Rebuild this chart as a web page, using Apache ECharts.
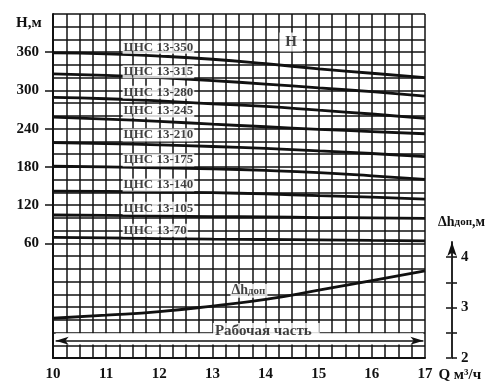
<!DOCTYPE html>
<html>
<head>
<meta charset="utf-8">
<script src="https://cdn.jsdelivr.net/npm/echarts@6/dist/echarts.min.js"></script>
<style>
html,body{margin:0;padding:0;background:#fff;}
#chart{width:500px;height:391px;}
</style>
</head>
<body>
<div id="chart"></div>
<script>
// ---- data ----
const flowQ = [10, 11, 12, 13, 14, 15, 16, 17];
const pumpNames = ['ЦНС 13-350','ЦНС 13-315','ЦНС 13-280','ЦНС 13-245','ЦНС 13-210','ЦНС 13-175','ЦНС 13-140','ЦНС 13-105','ЦНС 13-70'];
const head350 = [359, 357.5, 354, 349, 342, 334, 327, 320];
const head315 = [326, 323.5, 320, 315.5, 310, 304, 298, 291];
const head280 = [289, 287, 283.5, 279, 275, 269, 263, 256];
const head245 = [258, 255, 251.5, 247, 243, 239, 235.5, 232];
const head210 = [218, 216.5, 214.5, 212, 209, 205, 201, 196];
const head175 = [181, 180, 178.5, 177, 174.5, 171, 166, 160.5];
const head140 = [142, 141.5, 140.5, 139.5, 137.5, 135, 132.5, 129.5];
const head105 = [104.5, 104, 103, 102, 101.5, 100.5, 100, 99.3];
const head70  = [69.5, 68.5, 67.5, 66.5, 66, 65.5, 64.5, 64];
const npshValues = [2.78, 2.84, 2.91, 3.02, 3.15, 3.33, 3.52, 3.71];
const pumpLabelQ = 11.3;
const pumpLabelH = [367.7, 329.4, 297.1, 267.7, 230, 190.8, 151.6, 115, 80.5];
const hTickLabels = [60, 120, 180, 240, 300, 360];
const qTickLabels = [10, 11, 12, 13, 14, 15, 16, 17];
const dhTickLabels = [2, 3, 4];
const dhMinorTicks = [2, 2.5, 3, 3.5, 4];
const workRangeQ = [10.05, 16.97];
const workArrowH = -93;
const workBandH = [-99, -81];
const workLabel = {q: 13.0, h: -78.5, text: 'Рабочая часть'};
const headLabel = {q: 14.25, h: 376, text: 'H'};
const npshLabel = {q: 13.33, dh: 3.32};

const heads = [head350, head315, head280, head245, head210, head175, head140, head105, head70];

const SERIF = '"Liberation Serif","DejaVu Serif",serif';
const INK = '#111';

const chart = echarts.init(document.getElementById('chart'), null, {renderer: 'canvas'});

const series = heads.map((arr, k) => ({
  type: 'line',
  name: pumpNames[k],
  xAxisIndex: 0, yAxisIndex: 0,
  data: flowQ.map((q, i) => [q, arr[i]]),
  smooth: true,
  symbol: 'none',
  lineStyle: {color: INK, width: 2.8},
  z: 3
}));

series.push({
  type: 'line',
  name: 'dh',
  xAxisIndex: 0, yAxisIndex: 1,
  data: flowQ.map((q, i) => [q, npshValues[i]]),
  smooth: true,
  symbol: 'none',
  lineStyle: {color: INK, width: 2.8},
  z: 3
});

// white band + double arrow for working range
series.push({
  type: 'line',
  xAxisIndex: 0, yAxisIndex: 0,
  data: [],
  z: 1,
  markArea: {
    silent: true,
    itemStyle: {color: '#fff'},
    data: [[{coord: [workRangeQ[0], workBandH[0]]}, {coord: [workRangeQ[1], workBandH[1]]}]]
  }
});
series.push({
  type: 'line',
  xAxisIndex: 0, yAxisIndex: 0,
  data: [],
  z: 4,
  markLine: {
    silent: true,
    symbol: ['arrow', 'arrow'],
    symbolSize: [6, 13],
    label: {show: false},
    lineStyle: {color: INK, width: 1.6, type: 'solid'},
    data: [[{coord: [workRangeQ[0], workArrowH]}, {coord: [workRangeQ[1], workArrowH]}]]
  }
});

// pump labels
series.push({
  type: 'scatter',
  xAxisIndex: 0, yAxisIndex: 0,
  symbolSize: 1,
  itemStyle: {color: 'rgba(0,0,0,0)'},
  z: 5,
  data: pumpLabelH.map((h, i) => ({value: [pumpLabelQ, h], name: pumpNames[i]})),
  label: {
    show: true,
    position: 'right',
    distance: 0,
    formatter: p => p.name,
    fontFamily: SERIF,
    fontWeight: 'bold',
    fontSize: 13,
    color: INK,
    backgroundColor: '#fff',
    padding: [0, 1, 0, 1]
  }
});

// other text annotations
series.push({
  type: 'scatter',
  xAxisIndex: 0, yAxisIndex: 0,
  symbolSize: 1,
  itemStyle: {color: 'rgba(0,0,0,0)'},
  z: 5,
  data: [
    {value: [workLabel.q, workLabel.h], name: workLabel.text, label: {padding: [1, 8, 1, 2], fontSize: 15}},
    {value: [headLabel.q, headLabel.h], name: headLabel.text, label: {padding: [2, 6, 2, 6], fontSize: 15}}
  ],
  label: {
    show: true,
    position: 'right',
    distance: 0,
    formatter: p => p.name,
    fontFamily: SERIF,
    fontWeight: 'bold',
    color: INK,
    backgroundColor: '#fff'
  }
});
series.push({
  type: 'scatter',
  xAxisIndex: 0, yAxisIndex: 1,
  symbolSize: 1,
  itemStyle: {color: 'rgba(0,0,0,0)'},
  z: 5,
  data: [{value: [npshLabel.q, npshLabel.dh]}],
  label: {
    show: true,
    position: 'right',
    distance: 0,
    formatter: '{a|Δh}{b|доп}',
    backgroundColor: '#fff',
    padding: [0, 2, 0, 1],
    rich: {
      a: {fontFamily: SERIF, fontWeight: 'bold', fontSize: 14, color: INK},
      b: {fontFamily: SERIF, fontWeight: 'bold', fontSize: 11, color: INK}
    }
  }
});

const labelFont = {fontFamily: SERIF, fontWeight: 'bold', fontSize: 15, color: INK};

const option = {
  backgroundColor: '#fff',
  animation: false,
  graphic: [{
    type: 'text',
    left: 16, top: 16,
    style: {text: 'H,м', font: 'bold 15px "Liberation Serif", serif', fill: INK}
  }],
  grid: [
    {left: 53, right: 75, top: 14, bottom: 33, containLabel: false},
    {left: 451, width: 1, top: 242, bottom: 33, containLabel: false}
  ],
  xAxis: [
    {
      type: 'value', gridIndex: 0, min: 10, max: 17, interval: 0.25,
      axisLine: {show: true, onZero: false, lineStyle: {color: INK, width: 2}},
      axisTick: {show: false},
      axisLabel: Object.assign({customValues: qTickLabels, margin: 9}, labelFont),
      splitLine: {show: true, lineStyle: {color: INK, width: 1.5}},
      name: 'Q м³/ч',
      nameLocation: 'end',
      nameGap: 12,
      nameTextStyle: Object.assign({verticalAlign: 'top', padding: [10, 0, 0, 0]}, labelFont)
    },
    {type: 'value', gridIndex: 1, show: false, min: 0, max: 1}
  ],
  yAxis: [
    {
      // grid lines for H
      type: 'value', gridIndex: 0, min: -120, max: 420, interval: 20, position: 'left',
      axisLine: {show: true, onZero: false, lineStyle: {color: INK, width: 2}},
      axisTick: {show: false},
      axisLabel: {show: false},
      splitLine: {show: true, lineStyle: {color: INK, width: 1.5}}
    },
    {
      type: 'value', gridIndex: 0, min: 2, max: 8.75, position: 'right', show: false
    },
    {
      type: 'value', gridIndex: 1, min: 2, max: 4.3, position: 'right',
      axisLine: {show: true, onZero: false, symbol: ['none', 'arrow'], symbolSize: [7, 14], lineStyle: {color: INK, width: 1.8}},
      axisTick: {show: true, customValues: dhMinorTicks, length: 5, lineStyle: {color: INK, width: 1.5}},
      axisLabel: Object.assign({customValues: dhTickLabels, margin: 9}, labelFont),
      splitLine: {show: false},
      name: '{a|Δh}{b|доп}{a|,м}',
      nameLocation: 'end',
      nameGap: 13,
      nameTextStyle: {
        padding: [0, 0, 0, 19],
        rich: {
          a: {fontFamily: SERIF, fontWeight: 'bold', fontSize: 14, color: INK},
          b: {fontFamily: SERIF, fontWeight: 'bold', fontSize: 11, color: INK}
        }
      }
    },
    {
      type: 'value', gridIndex: 1, min: 2, max: 4.3, position: 'right',
      axisLine: {show: false},
      axisTick: {show: true, inside: true, customValues: dhMinorTicks, length: 5, lineStyle: {color: INK, width: 1.5}},
      axisLabel: {show: false},
      splitLine: {show: false}
    },
    {
      // H tick marks and labels
      type: 'value', gridIndex: 0, min: -120, max: 420, interval: 60, position: 'left',
      axisLine: {show: false},
      axisTick: {show: true, customValues: hTickLabels, length: 8, lineStyle: {color: INK, width: 1.5}},
      axisLabel: Object.assign({customValues: hTickLabels, margin: 14}, labelFont),
      splitLine: {show: false}
    }
  ],
  series: series
};

chart.setOption(option);
</script>
</body>
</html>
